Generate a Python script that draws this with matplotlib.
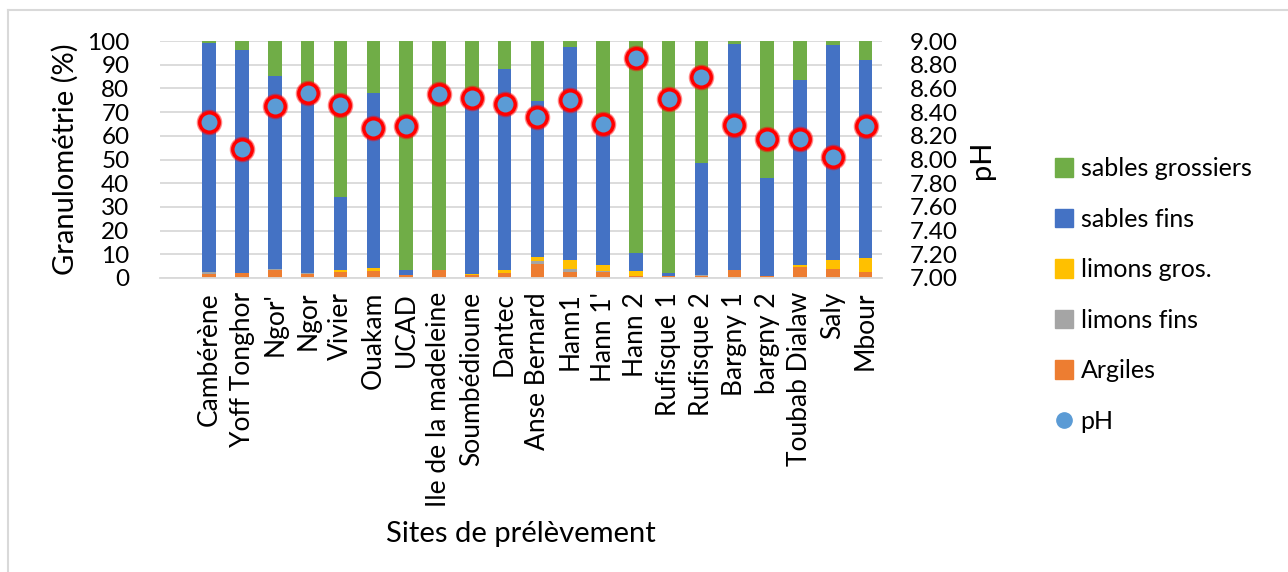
import matplotlib
matplotlib.use("Agg")
import matplotlib.pyplot as plt
import numpy as np
from matplotlib.lines import Line2D
from matplotlib.patches import Patch

plt.rcParams["font.family"] = ["Lato", "DejaVu Sans"]

sites = ["Cambérène", "Yoff Tonghor", "Ngor'", "Ngor", "Vivier", "Ouakam", "UCAD",
         "Ile de la madeleine", "Soumbédioune", "Dantec", "Anse Bernard", "Hann1",
         "Hann 1'", "Hann 2", "Rufisque 1", "Rufisque 2", "Bargny 1", "bargny 2",
         "Toubab Dialaw", "Saly", "Mbour"]

# layer thicknesses (%)
argiles = [1.7, 2.0, 3.4, 1.8, 2.5, 3.0, 1.3, 3.2, 1.1, 2.1, 5.9, 2.4,
           2.5, 1.0, 0.7, 0.7, 3.5, 0.7, 4.5, 3.7, 2.5]
limons_fins = [1.0, 0.0, 0.3, 0.5, 0.0, 0.0, 0.0, 0.2, 0.0, 0.0, 1.4, 1.4,
               0.6, 0.0, 0.0, 0.6, 0.0, 0.0, 0.0, 0.0, 0.0]
limons_gros = [0.0, 0.0, 0.0, 0.0, 1.0, 1.1, 0.0, 0.0, 0.7, 1.4, 1.4, 4.0,
               2.3, 2.1, 0.0, 0.0, 0.0, 0.0, 1.1, 4.1, 5.8]
sables_fins = [96.6, 94.2, 81.6, 76.7, 30.6, 73.8, 2.1, 0.0, 74.2, 84.8, 65.8, 89.5,
               59.6, 7.5, 1.6, 47.2, 95.2, 41.6, 77.9, 90.4, 83.7]
sables_grossiers = [0.7, 3.8, 14.7, 21.0, 65.9, 22.1, 96.6, 96.6, 24.0, 11.7, 25.5, 2.7,
                    35.0, 89.4, 97.7, 51.5, 1.3, 57.7, 16.5, 1.8, 8.0]
ph = [8.32, 8.09, 8.45, 8.56, 8.46, 8.27, 8.28, 8.55, 8.52, 8.47, 8.36, 8.50,
      8.30, 8.86, 8.51, 8.70, 8.29, 8.17, 8.17, 8.02, 8.28]

layers = [
    ("Argiles", argiles, "#ED7D31"),
    ("limons fins", limons_fins, "#A5A5A5"),
    ("limons gros.", limons_gros, "#FFC000"),
    ("sables fins", sables_fins, "#4472C4"),
    ("sables grossiers", sables_grossiers, "#70AD47"),
]

fig = plt.figure(figsize=(12.88, 5.72), dpi=100)
ax = fig.add_axes([160 / 1288, 1 - 278 / 572, 722 / 1288, 237 / 572])
x = np.arange(len(sites))
bottom = np.zeros(len(sites))
for name, vals, col in layers:
    ax.bar(x, vals, 0.41, bottom=bottom, color=col, linewidth=0, zorder=2)
    bottom += np.array(vals)

ax.set_xlim(-1.5, 20.5)
ax.set_ylim(0, 100)
ax.set_yticks(np.arange(0, 101, 10))
ax.yaxis.grid(True, color="#D9D9D9", linewidth=1.3, zorder=0)
ax.set_axisbelow(True)
for s in ["top", "right", "left"]:
    ax.spines[s].set_visible(False)
ax.spines["bottom"].set_color("#D9D9D9")
ax.spines["bottom"].set_linewidth(1.3)
ax.set_xticks(x)
ax.set_xticklabels(sites, rotation=90, fontsize=19)
ax.tick_params(axis="both", length=0)
ax.tick_params(axis="y", pad=22, labelsize=17.5)
ax.tick_params(axis="x", pad=10)
ax.set_ylabel("Granulométrie (%)", fontsize=21, labelpad=6)
ax.set_xlabel("Sites de prélèvement", fontsize=21, labelpad=10)

ax2 = ax.twinx()
ax2.set_ylim(7.0, 9.0)
ax2.set_yticks(np.arange(7.0, 9.01, 0.2))
ax2.set_yticklabels([f"{v:.2f}" for v in np.arange(7.0, 9.01, 0.2)])
for s in ax2.spines.values():
    s.set_visible(False)
ax2.tick_params(axis="y", length=0, pad=20, labelsize=17.5)
ax2.plot(x, ph, "o", markersize=17.5, color="#FF0000", alpha=0.35, zorder=3)
ax2.plot(x, ph, "o", markersize=14, markerfacecolor="#5B9BD5",
         markeredgecolor="#FF0000", markeredgewidth=2.5, zorder=4)
ax2.set_ylabel("pH", fontsize=21, labelpad=8)

handles = [Patch(color=c, label=n) for n, v, c in layers[::-1]]
handles.append(Line2D([], [], marker="o", linestyle="", markersize=11,
                      color="#5B9BD5", label="pH"))
fig.legend(handles=handles, loc="center left", bbox_to_anchor=(1032 / 1288, 1 - 295 / 572),
           frameon=False, fontsize=18, handlelength=0.75, handleheight=0.75,
           handletextpad=0.3, labelspacing=1.1)

fig.add_artist(Line2D([8 / 1288, 8 / 1288], [0, 1 - 10 / 572], transform=fig.transFigure,
                      color="#D9D9D9", linewidth=1.5))
fig.add_artist(Line2D([8 / 1288, 1], [1 - 10 / 572, 1 - 10 / 572], transform=fig.transFigure,
                      color="#D9D9D9", linewidth=1.5))

fig.savefig("out.png", dpi=100)
